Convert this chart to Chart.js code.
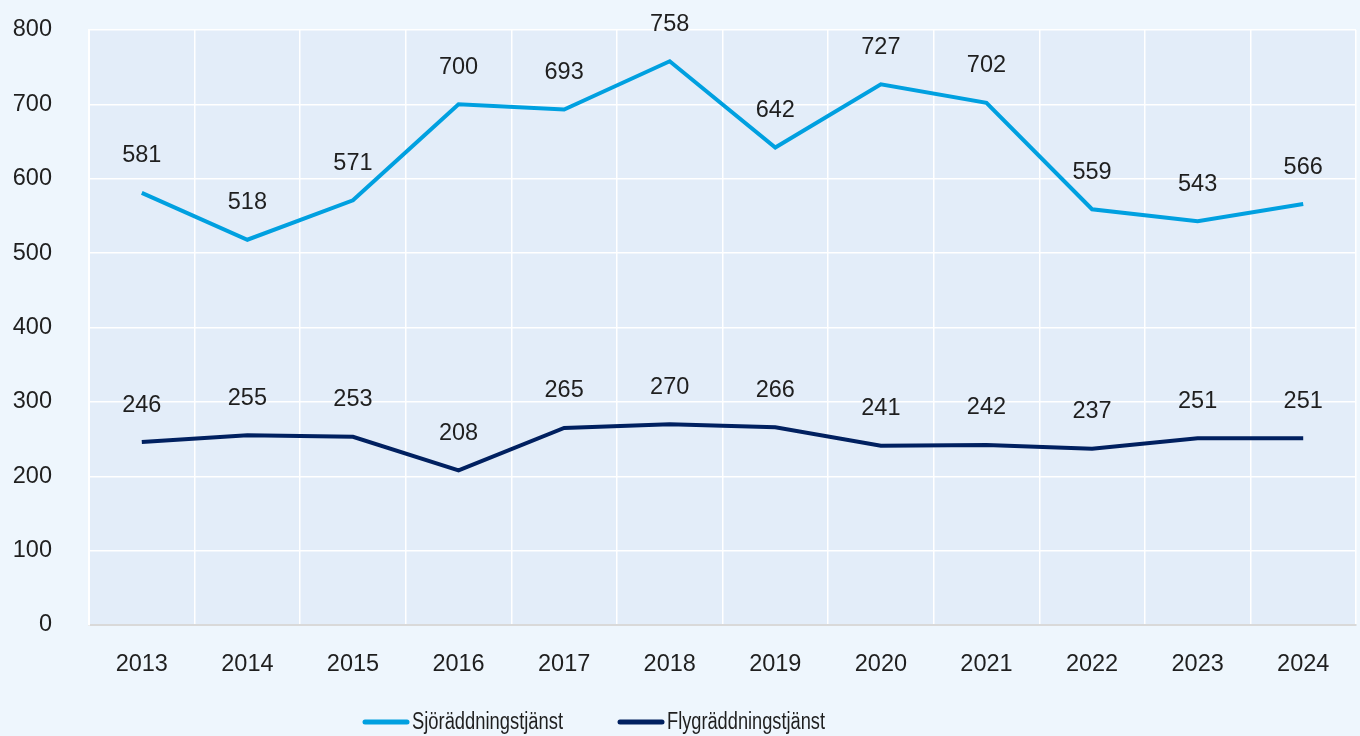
<!DOCTYPE html>
<html>
<head>
<meta charset="utf-8">
<script src="https://cdn.jsdelivr.net/npm/chart.js@4/dist/chart.umd.min.js"></script>
<style>
html,body{margin:0;padding:0;background:#eef6fd;}
#wrap{width:1360px;height:736px;}
</style>
</head>
<body>
<div id="wrap"><canvas id="c" width="1360" height="736"></canvas></div>
<script>
const categories = ['2013','2014','2015','2016','2017','2018','2019','2020','2021','2022','2023','2024'];
const sjoValues = [581,518,571,700,693,758,642,727,702,559,543,566];
const flyValues = [246,255,253,208,265,270,266,241,242,237,251,251];
const seriesNames = ['Sjöräddningstjänst','Flygräddningstjänst'];
const yTicks = [0,100,200,300,400,500,600,700,800];

const FONT = '"Liberation Sans", Arial, sans-serif';
const TEXT = '#1f1f1f';

const plotBg = {
  id:'plotBg',
  beforeDraw(chart){
    const {ctx, chartArea:a} = chart;
    ctx.save();
    ctx.fillStyle = '#e3edf9';
    ctx.fillRect(a.left, a.top, a.right-a.left, a.bottom-a.top);
    ctx.restore();
  }
};
const dataLabels = {
  id:'dataLabels',
  afterDatasetsDraw(chart){
    const ctx = chart.ctx;
    ctx.save();
    ctx.font = '23.5px ' + FONT;
    ctx.fillStyle = TEXT;
    ctx.textAlign = 'center';
    ctx.textBaseline = 'middle';
    chart.data.datasets.forEach((ds,i)=>{
      const meta = chart.getDatasetMeta(i);
      meta.data.forEach((pt,j)=>{
        ctx.fillText(String(ds.data[j]), pt.x, pt.y - 37);
      });
    });
    ctx.restore();
  }
};
const customLegend = {
  id:'customLegend',
  afterDraw(chart){
    const ctx = chart.ctx;
    ctx.save();
    ctx.font = '23.5px ' + FONT;
    ctx.textBaseline = 'middle';
    ctx.textAlign = 'left';
    const y = 722;
    const textWidths = [151, 158];
    let x = 363;
    chart.data.datasets.forEach((ds,i)=>{
      ctx.beginPath();
      ctx.lineCap = 'round';
      ctx.strokeStyle = ds.borderColor;
      ctx.lineWidth = 5;
      ctx.moveTo(x+2, y); ctx.lineTo(x+44, y); ctx.stroke();
      x += 49;
      const w = ctx.measureText(ds.label).width;
      const sx = textWidths[i] / w;
      ctx.save();
      ctx.translate(x, y);
      ctx.scale(sx, 1);
      ctx.fillStyle = TEXT;
      ctx.fillText(ds.label, 0, 1);
      ctx.restore();
      x += textWidths[i] + 55;
    });
    ctx.restore();
  }
};

new Chart(document.getElementById('c'), {
  type:'line',
  data:{
    labels: categories,
    datasets:[
      {label: seriesNames[0], data: sjoValues, borderColor:'#00a0e0', backgroundColor:'#00a0e0', borderWidth:4, pointRadius:0, tension:0},
      {label: seriesNames[1], data: flyValues, borderColor:'#002060', backgroundColor:'#002060', borderWidth:4, pointRadius:0, tension:0}
    ]
  },
  options:{
    responsive:false,
    animation:false,
    devicePixelRatio:1,
    layout:{padding:{top:30,right:4,left:0,bottom:51}},
    scales:{
      x:{
        offset:true,
        grid:{offset:true, color:'#ffffff', lineWidth:1.5, drawTicks:false},
        border:{color:'#d9d9d9', width:2},
        ticks:{font:{size:23.5, family:FONT}, color:TEXT, padding:25},
        afterFit(s){ s.height = 60; }
      },
      y:{
        min:0, max:800,
        afterBuildTicks(s){ s.ticks = yTicks.map(v=>({value:v})); },
        grid:{color:'#ffffff', lineWidth:1.5, drawTicks:false},
        border:{color:'#ffffff', width:2},
        ticks:{font:{size:23.5, family:FONT}, color:TEXT, padding:37},
        afterFit(s){ s.width = 89; s.paddingTop = 0; s.paddingBottom = 0; }
      }
    },
    plugins:{
      legend:{display:false},
      tooltip:{enabled:false}
    }
  },
  plugins:[plotBg, dataLabels, customLegend]
});
</script>
</body>
</html>
